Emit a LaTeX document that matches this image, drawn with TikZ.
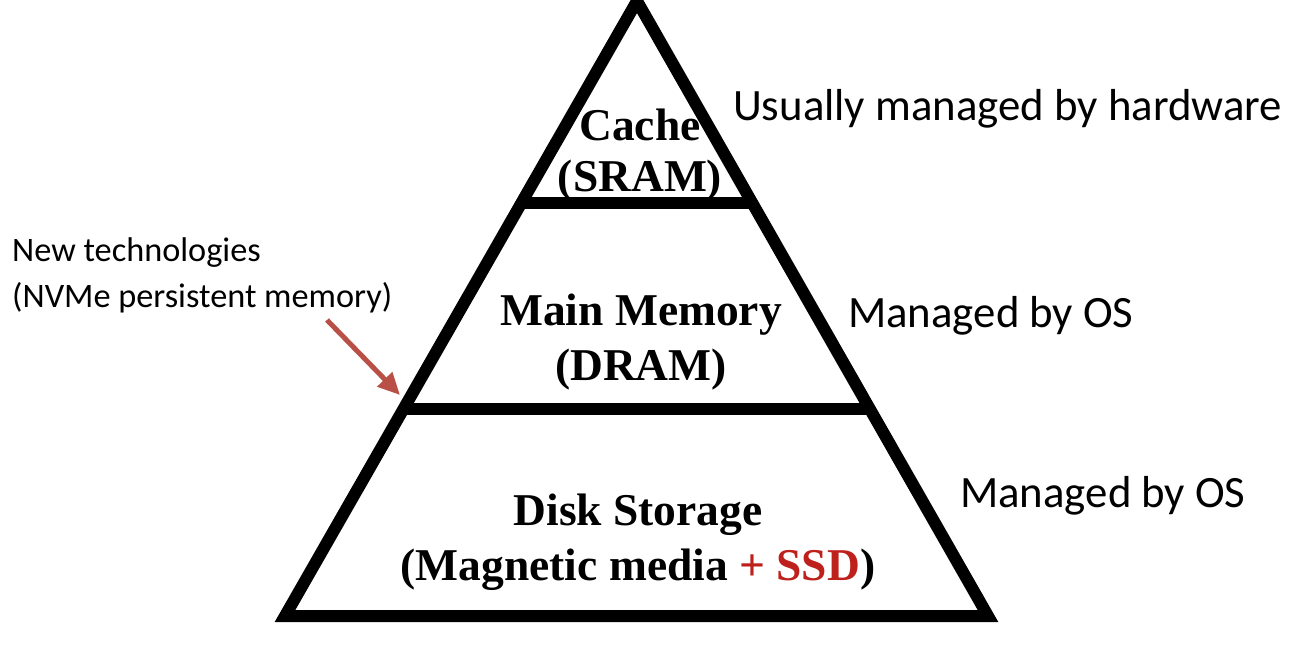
\documentclass[tikz,border=0pt]{standalone}
\usepackage{fontspec}
\setmainfont{Liberation Serif}
\newfontfamily\calfont{Carlito}
\usetikzlibrary{arrows.meta,calc}
\definecolor{arrowred}{RGB}{185,80,72}
\definecolor{ssdred}{RGB}{190,32,28}
\tikzset{
  pyr/.style={line width=12pt, line join=miter, draw=black},
  layerlabel/.style={font=\fontsize{45.5}{55}\selectfont\bfseries, align=center, inner sep=0pt},
  sidenote/.style={font=\calfont\fontsize{44.8}{50}\selectfont, inner sep=0pt, anchor=base west},
  leftnote/.style={font=\calfont\fontsize{34.3}{46}\selectfont, align=left, inner sep=0pt, anchor=west},
  techarrow/.style={draw=arrowred, line width=5pt, -{Triangle[length=22pt,width=20pt]}}
}
\begin{document}
\begin{tikzpicture}[x=1pt,y=-1pt]
\useasboundingbox (0,0) rectangle (1304,650);
\coordinate (apex) at (637,1);
\coordinate (bl) at (285,616);
\coordinate (br) at (988,616);
\draw[pyr] (apex) -- (br) -- (bl) -- cycle;
\coordinate (d1l) at ($(apex)!0.3285!(bl)$);
\coordinate (d1r) at ($(apex)!0.3285!(br)$);
\coordinate (d2l) at ($(apex)!0.6634!(bl)$);
\coordinate (d2r) at ($(apex)!0.6634!(br)$);
\draw[pyr, line cap=butt] (d1l) -- (d1r);
\draw[pyr, line cap=butt] (d2l) -- (d2r);
\node[layerlabel, font=\fontsize{45.5}{51}\selectfont\bfseries] (cache) at (640,155) {Cache\\(SRAM)};
\node[layerlabel] (mainmem) at (641,342) {Main Memory\\(DRAM)};
\node[layerlabel] (disk) at (638,542) {Disk Storage\\(Magnetic media \textcolor{ssdred}{+ SSD})};
\node[sidenote] (hw) at (733,121) {Usually managed by hardware};
\node[sidenote] (os1) at (848,327) {Managed by OS};
\node[sidenote] (os2) at (960,507) {Managed by OS};
\node[leftnote] (newtech) at (12,275) {New technologies\\(NVMe persistent memory)};
\coordinate (arrtail) at (327,320);
\coordinate (arrtip) at (400,395);
\draw[techarrow] (arrtail) -- (arrtip);
\end{tikzpicture}
\end{document}
